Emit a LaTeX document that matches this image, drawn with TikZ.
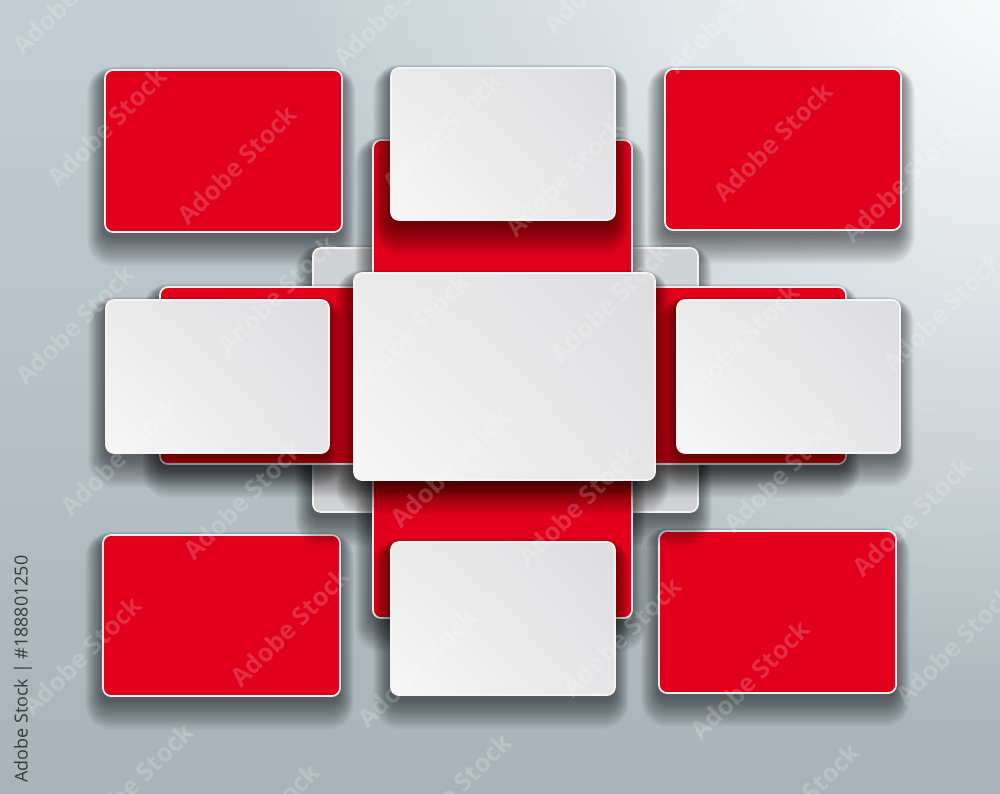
\documentclass[tikz,border=0pt]{standalone}
\usepackage{fontspec}
\setsansfont{Open Sans}
\usepackage{tikz}
\usetikzlibrary{fadings,shadings}

\definecolor{cardred}{HTML}{E0001B}
\definecolor{bgtop}{HTML}{C2CED4}
\definecolor{bgbottom}{HTML}{A8B4BA}
\definecolor{stampgray}{HTML}{3A3A3A}
\definecolor{paperUL}{HTML}{EAEAEB}
\definecolor{paperUR}{HTML}{DCDDDF}
\definecolor{paperLL}{HTML}{F7F7F7}
\definecolor{paperLR}{HTML}{E5E5E7}
\definecolor{ghostgray}{HTML}{DDDEE0}

\tikzfading[name=glow, inner color=transparent!0, outer color=transparent!100]

% soft shadow under a card, corners given as (left,top)(right,bottom)
\def\softshadow(#1,#2)(#3,#4){\foreach \k in {0,...,21} \fill[black, fill opacity=0.028, rounded corners={2.3pt+\k*0.25pt}] ({#1-0.01-\k*0.008}, {#2+0.05-\k*0.004}) rectangle ({#3-0.01+\k*0.007}, {#4+0.05+\k*0.014});}

\tikzset{
	redcard/.style={fill=cardred, draw=white!88!gray, line width=0.5pt, rounded corners=2.3pt},
	whitecard/.style={draw=white!92!gray, line width=0.5pt, rounded corners=2.3pt,
		upper left=paperUL, upper right=paperUR, lower left=paperLL, lower right=paperLR},
	ghostcard/.style={fill=ghostgray, fill opacity=0.9, draw=white!90!gray, line width=0.5pt, rounded corners=2.3pt},
	stamp/.style={font=\sffamily\fontsize{5.1}{6}\selectfont, text=stampgray, inner sep=0pt},
	wmark/.style={font=\sffamily\bfseries\fontsize{7.2}{8}\selectfont, text=white, text opacity=0.18, rotate=45, inner sep=0pt}
}

\begin{document}
\begin{tikzpicture}[x=1cm, y=-1cm]
			%%%%% START %%%%%
			
			\useasboundingbox (0, 0) rectangle (10, 7.93);
			\clip (0, 0) rectangle (10, 7.93);
			
			% backdrop
			\shade[top color=bgtop, bottom color=bgbottom] (0, 0) rectangle (10, 7.93);
			\fill[white, path fading=glow, fill opacity=0.95] (10.2, -0.4) circle (7.5);
			
			% corner cards
			\softshadow(1.05,0.70)(3.42,2.32)
			\draw[redcard] (1.05, 0.70) rectangle (3.42, 2.32);
			\softshadow(6.65,0.69)(9.01,2.30)
			\draw[redcard] (6.65, 0.69) rectangle (9.01, 2.30);
			\softshadow(1.03,5.35)(3.40,6.96)
			\draw[redcard] (1.03, 5.35) rectangle (3.40, 6.96);
			\softshadow(6.59,5.31)(8.96,6.93)
			\draw[redcard] (6.59, 5.31) rectangle (8.96, 6.93);
			
			% cross behind the middle
			\softshadow(3.13,2.48)(6.98,5.12)
			\draw[ghostcard] (3.13, 2.48) rectangle (6.98, 5.12);
			\softshadow(3.73,1.40)(6.32,6.18)
			\draw[redcard] (3.73, 1.40) rectangle (6.32, 6.18);
			\softshadow(1.60,2.87)(8.46,4.64)
			\draw[redcard] (1.60, 2.87) rectangle (8.46, 4.64);
			
			% white cards
			\softshadow(3.91,0.68)(6.15,2.20)
			\shade[whitecard] (3.91, 0.68) rectangle (6.15, 2.20);
			\softshadow(3.91,5.42)(6.15,6.95)
			\shade[whitecard] (3.91, 5.42) rectangle (6.15, 6.95);
			\softshadow(1.06,3.00)(3.29,4.53)
			\shade[whitecard] (1.06, 3.00) rectangle (3.29, 4.53);
			\softshadow(6.77,3.00)(9.00,4.53)
			\shade[whitecard] (6.77, 3.00) rectangle (9.00, 4.53);
			\softshadow(3.54,2.73)(6.55,4.80)
			\shade[whitecard] (3.54, 2.73) rectangle (6.55, 4.80);
			
			\node[stamp, rotate=90] (stamp) at (0.23, 6.69) {Adobe Stock | \#188801250};
			
			% watermark
			\foreach \wx/\wy [count=\i] in {0.72/-0.05, 3.93/0.07, 6.03/-0.26, 7.26/0.14, 9.33/-0.16,
					1.07/1.27, 2.37/1.65, 4.42/1.32, 5.65/1.77, 7.73/1.42, 9.02/1.83,
					0.75/3.25, 2.77/2.95, 4.10/3.33, 6.10/3.03, 7.40/3.43, 9.42/3.12,
					1.20/4.56, 2.43/5.00, 4.50/4.68, 5.77/5.06, 7.83/4.73, 9.12/5.17,
					0.82/6.56, 2.90/6.27, 4.17/6.68, 6.22/6.37, 7.50/6.80, 9.55/6.45,
					1.34/7.83, 2.60/8.23, 4.52/7.93, 8.00/8.03}
				\node[wmark] (wm\i) at (\wx, \wy) {Adobe Stock};
			
			%%%%% END %%%%%
\end{tikzpicture}
\end{document}
